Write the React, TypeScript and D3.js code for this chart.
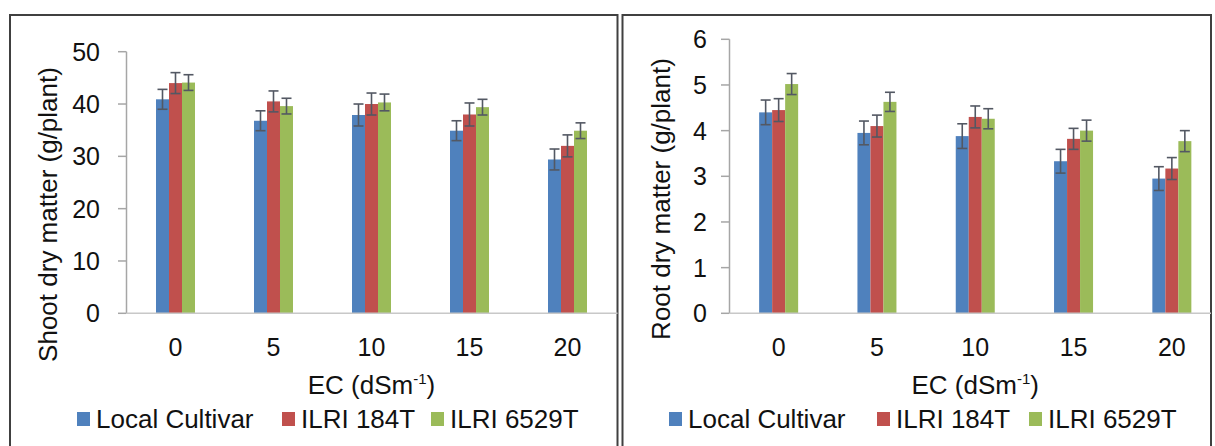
import React from "react";
import * as d3 from "d3";

// EC levels (dS m-1) and cultivars
const categories = ["0", "5", "10", "15", "20"];
const seriesNames = ["Local Cultivar", "ILRI 184T", "ILRI 6529T"];
const seriesColors = ["#4F81BD", "#C0504D", "#9BBB59"];

// Shoot dry matter (g/plant)
const shootLocal = [40.9, 36.8, 37.9, 34.9, 29.4];
const shootIlri184 = [44.0, 40.5, 40.0, 38.0, 32.0];
const shootIlri6529 = [44.1, 39.6, 40.3, 39.4, 34.9];
const shootErrLocal = [1.9, 1.9, 2.1, 1.9, 2.0];
const shootErrIlri184 = [2.0, 2.0, 2.1, 2.2, 2.1];
const shootErrIlri6529 = [1.5, 1.5, 1.6, 1.5, 1.5];
const shootTicks = [0, 10, 20, 30, 40, 50];

// Root dry matter (g/plant)
const rootLocal = [4.4, 3.95, 3.88, 3.33, 2.95];
const rootIlri184 = [4.45, 4.1, 4.3, 3.82, 3.17];
const rootIlri6529 = [5.02, 4.63, 4.26, 4.0, 3.77];
const rootErrLocal = [0.27, 0.26, 0.27, 0.26, 0.26];
const rootErrIlri184 = [0.25, 0.24, 0.24, 0.23, 0.24];
const rootErrIlri6529 = [0.23, 0.21, 0.22, 0.23, 0.23];
const rootTicks = [0, 1, 2, 3, 4, 5, 6];

const FONT = "'Liberation Sans', Arial, Helvetica, sans-serif";

type PanelProps = {
  left: number;
  right: number;
  axisX: number;
  band: number;
  yTop: number;
  yBottom: number;
  yMax: number;
  ticks: number[];
  tickLabelX: number;
  values: number[][];
  errors: number[][];
  yTitle: string;
  yTitleX: number;
  yTitleY: number;
  legendX: number[];
};

function Panel(p: PanelProps) {
  const x = d3
    .scaleBand<string>()
    .domain(categories)
    .range([p.axisX, p.axisX + p.band * categories.length])
    .padding(0);
  const inner = d3.scaleBand<string>().domain(seriesNames).range([0, 39]).padding(0);
  const y = d3.scaleLinear().domain([0, p.yMax]).range([p.yBottom, p.yTop]);
  const bw = inner.bandwidth();
  const capHalf = 5;
  const xMid = p.axisX + (p.band * categories.length) / 2;

  return (
    <g>
      {/* panel frame */}
      <rect
        x={p.left}
        y={15}
        width={p.right - p.left}
        height={460}
        fill="white"
        stroke="#404040"
        strokeWidth={2}
      />

      {/* bars */}
      {seriesNames.map((s, si) =>
        categories.map((c, ci) => {
          const v = p.values[si][ci];
          const bx = (x(c) as number) + x.bandwidth() / 2 - 19.5 + (inner(s) as number);
          return (
            <rect
              key={s + c}
              x={bx}
              y={y(v)}
              width={bw}
              height={y(0) - y(v)}
              fill={seriesColors[si]}
            />
          );
        })
      )}

      {/* error bars */}
      {seriesNames.map((s, si) =>
        categories.map((c, ci) => {
          const v = p.values[si][ci];
          const e = p.errors[si][ci];
          const cx = (x(c) as number) + x.bandwidth() / 2 - 19.5 + (inner(s) as number) + bw / 2;
          const hi = y(v + e);
          const lo = y(v - e);
          return (
            <g key={"e" + s + c} stroke="#535863" strokeWidth={1.6}>
              <line x1={cx} x2={cx} y1={hi} y2={lo} />
              <line x1={cx - capHalf} x2={cx + capHalf} y1={hi} y2={hi} />
              <line x1={cx - capHalf} x2={cx + capHalf} y1={lo} y2={lo} />
            </g>
          );
        })
      )}

      {/* value axis */}
      <line x1={p.axisX} x2={p.axisX} y1={y(p.yMax)} y2={y(0)} stroke="#A6A6A6" strokeWidth={1.5} />
      {p.ticks.map((t) => (
        <g key={"t" + t}>
          <line x1={p.axisX - 8.5} x2={p.axisX} y1={y(t)} y2={y(t)} stroke="#A6A6A6" strokeWidth={1.5} />
          <text
            x={p.tickLabelX}
            y={y(t)}
            dy="0.36em"
            textAnchor="end"
            fontFamily={FONT}
            fontSize={25}
            fill="#111"
          >
            {t}
          </text>
        </g>
      ))}

      {/* category axis */}
      <line x1={p.axisX} x2={p.right} y1={y(0)} y2={y(0)} stroke="#C8C8C8" strokeWidth={1.5} />
      {categories.map((c) => (
        <text
          key={"c" + c}
          x={(x(c) as number) + x.bandwidth() / 2}
          y={356}
          textAnchor="middle"
          fontFamily={FONT}
          fontSize={25}
          fill="#111"
        >
          {c}
        </text>
      ))}

      {/* axis titles */}
      <text x={xMid} y={394} textAnchor="middle" fontFamily={FONT} fontSize={26} fill="#111">
        EC (dSm
        <tspan fontSize={15} dy={-10}>
          -1
        </tspan>
        <tspan dy={10}>)</tspan>
      </text>
      <text
        transform={`translate(${p.yTitleX},${p.yTitleY}) rotate(-90)`}
        textAnchor="middle"
        fontFamily={FONT}
        fontSize={26}
        fill="#111"
      >
        {p.yTitle}
      </text>

      {/* legend */}
      {seriesNames.map((s, si) => (
        <g key={"l" + s}>
          <rect x={p.legendX[si]} y={412} width={13} height={14} fill={seriesColors[si]} />
          <text x={p.legendX[si] + 19} y={428} fontFamily={FONT} fontSize={26} fill="#111">
            {s}
          </text>
        </g>
      ))}
    </g>
  );
}

export default function App() {
  return (
    <svg
      width={1215}
      height={446}
      style={{ position: "absolute", left: 0, top: 0, background: "white" }}
    >
      <rect x={0} y={0} width={1215} height={446} fill="white" />
      <Panel
        left={10}
        right={617.5}
        axisX={126.5}
        band={98}
        yTop={51.7}
        yBottom={313.3}
        yMax={50}
        ticks={shootTicks}
        tickLabelX={100}
        values={[shootLocal, shootIlri184, shootIlri6529]}
        errors={[shootErrLocal, shootErrIlri184, shootErrIlri6529]}
        yTitle="Shoot dry matter (g/plant)"
        yTitleX={57}
        yTitleY={214.5}
        legendX={[77, 282, 431]}
      />
      <Panel
        left={622.5}
        right={1211}
        axisX={729.5}
        band={98.3}
        yTop={39.3}
        yBottom={313.3}
        yMax={6}
        ticks={rootTicks}
        tickLabelX={707}
        values={[rootLocal, rootIlri184, rootIlri6529]}
        errors={[rootErrLocal, rootErrIlri184, rootErrIlri6529]}
        yTitle="Root dry matter (g/plant)"
        yTitleX={670}
        yTitleY={199}
        legendX={[669, 877, 1029]}
      />
    </svg>
  );
}
